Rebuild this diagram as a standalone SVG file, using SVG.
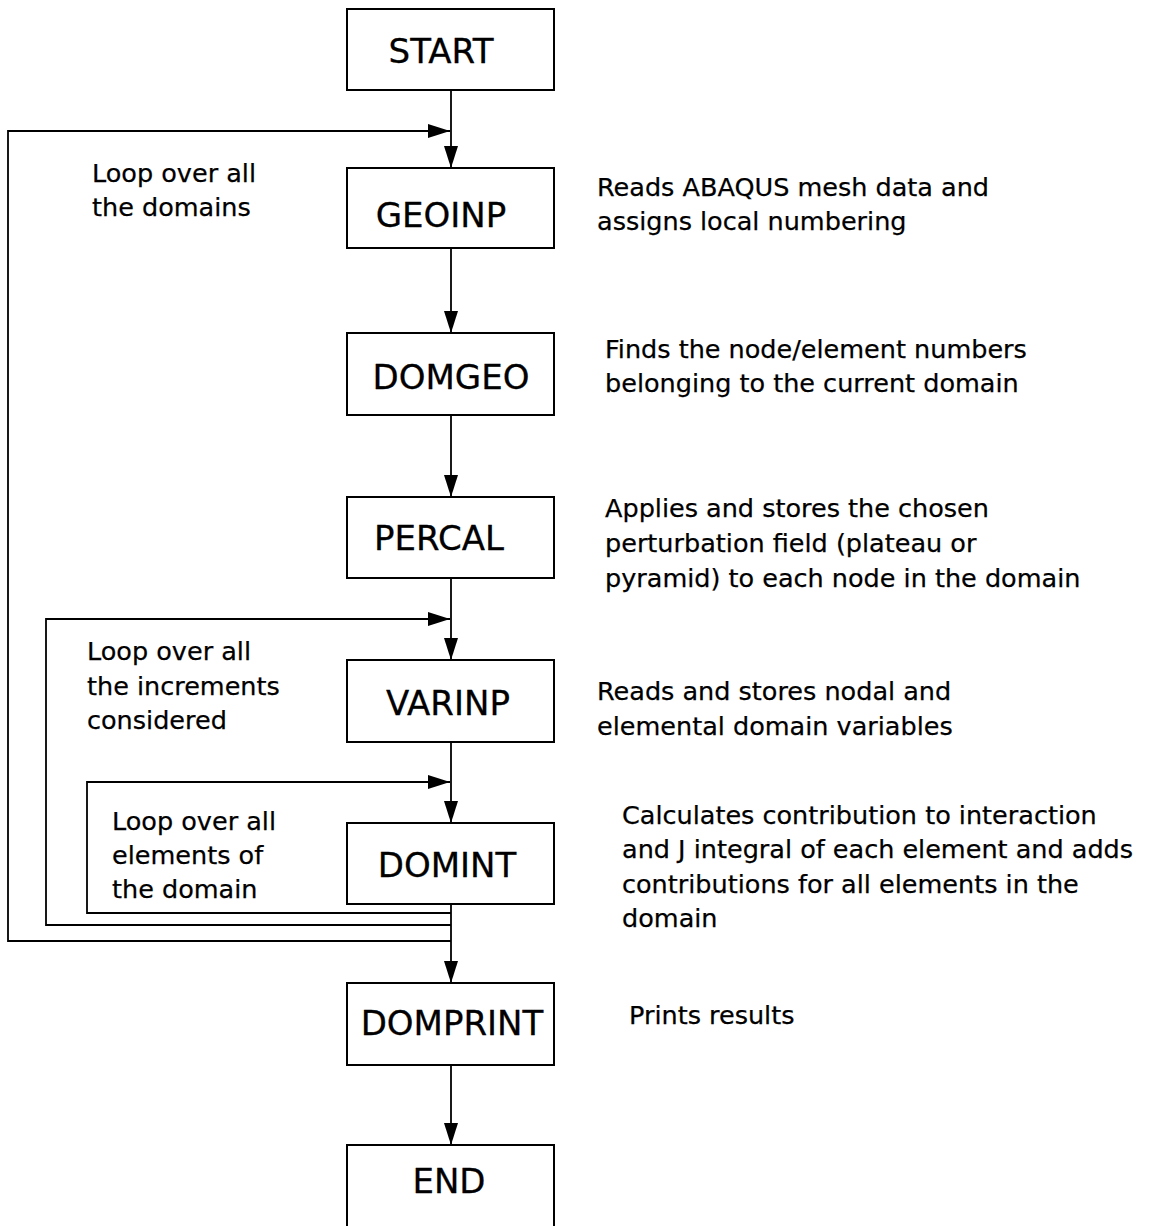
<svg xmlns="http://www.w3.org/2000/svg" width="1149" height="1226" viewBox="0 0 1149 1226">
  <style>
    .box { fill: #ffffff; stroke: #000000; stroke-width: 2; }
    .label { font-family: "DejaVu Sans", "Liberation Sans", sans-serif; font-size: 34px; fill: #000000; text-anchor: middle; stroke: #000000; stroke-width: 0.3; }
    .note { font-family: "DejaVu Sans", "Liberation Sans", sans-serif; font-size: 25.5px; fill: #000000; stroke: #000000; stroke-width: 0.25; }
    .wire { fill: none; stroke: #000000; stroke-width: 1.8; }
  </style>
  <defs>
    <marker id="arrow" markerUnits="userSpaceOnUse" markerWidth="22" markerHeight="14" refX="22" refY="7" orient="auto">
      <path d="M0,0 L22,7 L0,14 z" fill="#000000"/>
    </marker>
  </defs>
  <rect width="1149" height="1226" fill="#ffffff"/>

  <!-- flow connectors and loop-back lines -->
  <g id="connectors">
    <path class="wire" d="M451,90 V168" marker-end="url(#arrow)"/>
    <path class="wire" d="M451,248 V333" marker-end="url(#arrow)"/>
    <path class="wire" d="M451,415 V497" marker-end="url(#arrow)"/>
    <path class="wire" d="M451,578 V660" marker-end="url(#arrow)"/>
    <path class="wire" d="M451,742 V823" marker-end="url(#arrow)"/>
    <path class="wire" d="M451,904 V983" marker-end="url(#arrow)"/>
    <path class="wire" d="M451,1065 V1145" marker-end="url(#arrow)"/>
    <!-- loop over domains -->
    <path class="wire" d="M451,941 H8 V131 H450" marker-end="url(#arrow)"/>
    <!-- loop over increments -->
    <path class="wire" d="M451,925 H46 V619 H450" marker-end="url(#arrow)"/>
    <!-- loop over elements -->
    <path class="wire" d="M451,913 H87 V782 H450" marker-end="url(#arrow)"/>
  </g>

  <g id="node-start">
    <rect class="box" x="347" y="9" width="207" height="81"/>
    <text class="label" x="441" y="63">START</text>
  </g>
  <g id="node-geoinp">
    <rect class="box" x="347" y="168" width="207" height="80"/>
    <text class="label" x="441" y="227">GEOINP</text>
  </g>
  <g id="node-domgeo">
    <rect class="box" x="347" y="333" width="207" height="82"/>
    <text class="label" x="451" y="389">DOMGEO</text>
  </g>
  <g id="node-percal">
    <rect class="box" x="347" y="497" width="207" height="81"/>
    <text class="label" x="439" y="550">PERCAL</text>
  </g>
  <g id="node-varinp">
    <rect class="box" x="347" y="660" width="207" height="82"/>
    <text class="label" x="448" y="715">VARINP</text>
  </g>
  <g id="node-domint">
    <rect class="box" x="347" y="823" width="207" height="81"/>
    <text class="label" x="447" y="877">DOMINT</text>
  </g>
  <g id="node-domprint">
    <rect class="box" x="347" y="983" width="207" height="82"/>
    <text class="label" x="452" y="1035">DOMPRINT</text>
  </g>
  <g id="node-end">
    <rect class="box" x="347" y="1145" width="207" height="90"/>
    <text class="label" x="449" y="1193">END</text>
  </g>

  <!-- loop captions -->
  <g id="caption-domains">
    <text class="note" x="92" y="182">Loop over all</text>
    <text class="note" x="92" y="216">the domains</text>
  </g>
  <g id="caption-increments">
    <text class="note" x="87" y="660">Loop over all</text>
    <text class="note" x="87" y="695">the increments</text>
    <text class="note" x="87" y="729">considered</text>
  </g>
  <g id="caption-elements">
    <text class="note" x="112" y="830">Loop over all</text>
    <text class="note" x="112" y="864">elements of</text>
    <text class="note" x="112" y="898">the domain</text>
  </g>

  <!-- step descriptions -->
  <g id="desc-geoinp">
    <text class="note" x="597" y="196">Reads ABAQUS mesh data and</text>
    <text class="note" x="597" y="230">assigns local numbering</text>
  </g>
  <g id="desc-domgeo">
    <text class="note" x="605" y="358">Finds the node/element numbers</text>
    <text class="note" x="605" y="392">belonging to the current domain</text>
  </g>
  <g id="desc-percal">
    <text class="note" x="605" y="517">Applies and stores the chosen</text>
    <text class="note" x="605" y="552">perturbation field (plateau or</text>
    <text class="note" x="605" y="587">pyramid) to each node in the domain</text>
  </g>
  <g id="desc-varinp">
    <text class="note" x="597" y="700">Reads and stores nodal and</text>
    <text class="note" x="597" y="735">elemental domain variables</text>
  </g>
  <g id="desc-domint">
    <text class="note" x="622" y="824">Calculates contribution to interaction</text>
    <text class="note" x="622" y="858">and J integral of each element and adds</text>
    <text class="note" x="622" y="893">contributions for all elements in the</text>
    <text class="note" x="622" y="927">domain</text>
  </g>
  <g id="desc-domprint">
    <text class="note" x="629" y="1024">Prints results</text>
  </g>
</svg>
